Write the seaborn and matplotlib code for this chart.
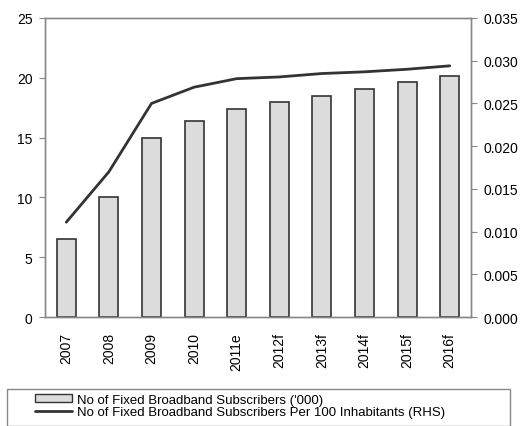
import matplotlib
matplotlib.use("Agg")
import matplotlib.pyplot as plt
from matplotlib.patches import Rectangle
from matplotlib.lines import Line2D
import seaborn as sns
import pandas as pd
import numpy as np

years = ["2007", "2008", "2009", "2010", "2011e", "2012f", "2013f", "2014f", "2015f", "2016f"]
subscribers = [6.5, 10.0, 15.0, 16.4, 17.4, 18.0, 18.45, 19.05, 19.65, 20.15]
per_100 = [0.0111, 0.0170, 0.0250, 0.0269, 0.0279, 0.0281, 0.0285, 0.0287, 0.0290, 0.0294]
left_ticks = [0, 5, 10, 15, 20, 25]
right_ticks = [0.000, 0.005, 0.010, 0.015, 0.020, 0.025, 0.030, 0.035]

bar_label = "No of Fixed Broadband Subscribers ('000)"
line_label = "No of Fixed Broadband Subscribers Per 100 Inhabitants (RHS)"

sns.set_style("white")
plt.rcParams["font.family"] = ["Liberation Sans", "DejaVu Sans"]
plt.rcParams["text.color"] = "black"
plt.rcParams["xtick.color"] = "black"
plt.rcParams["ytick.color"] = "black"

df = pd.DataFrame({"year": years, "subs": subscribers, "pos": np.arange(len(years)), "rate": per_100})

fig = plt.figure(figsize=(5.26, 4.27), dpi=100)
ax = fig.add_axes([45 / 526, 1 - 318 / 427, 426 / 526, 299 / 427])

sns.barplot(data=df, x="year", y="subs", ax=ax, color="#dcdcdc", width=0.45,
            edgecolor="#333333", linewidth=1.2, saturation=1)
ax.set_xlim(-0.5, len(years) - 0.5)
ax.set_ylim(0, 25)
ax.set_yticks(left_ticks)
ax.set_xlabel("")
ax.set_ylabel("")

ax2 = ax.twinx()
sns.lineplot(data=df, x="pos", y="rate", ax=ax2, color="#333333", linewidth=2.0)
ax2.set_ylim(0, 0.035)
ax2.set_yticks(right_ticks)
ax2.set_yticklabels([f"{t:.3f}" for t in right_ticks])
ax2.set_ylabel("")
ax2.set_xlabel("")
ax2.set_xlim(-0.5, len(years) - 0.5)

spine_col = "#888888"
for a in (ax, ax2):
    for s in a.spines.values():
        s.set_color(spine_col)
        s.set_linewidth(1.0)
        s.set_visible(True)

# category labels at centers, tick marks at boundaries
ax.set_xticks(np.arange(len(years)))
ax.set_xticklabels(years, rotation=90, fontsize=10)
ax.set_xticks(np.arange(len(years) + 1) - 0.5, minor=True)
ax.tick_params(axis="x", which="major", length=0, pad=11)
ax.tick_params(axis="x", which="minor", length=4, color=spine_col, direction="out")
ax.tick_params(axis="y", which="major", length=4, color=spine_col, labelcolor="black",
               direction="out", labelsize=10, left=True, pad=5)
ax2.tick_params(axis="y", which="major", length=4, color=spine_col, labelcolor="black",
                direction="out", labelsize=10, right=True, pad=5)
ax2.tick_params(axis="x", which="both", bottom=False, top=False, labelbottom=False)

# legend box
fig.patches.append(Rectangle((7 / 526, 1 - 427 / 427), 503 / 526, 37 / 427,
                             transform=fig.transFigure, fill=False,
                             edgecolor="#888888", linewidth=1.0))
handles = [
    Rectangle((0, 0), 1, 1, facecolor="#dcdcdc", edgecolor="#333333", linewidth=1.0),
    Line2D([0], [0], color="#333333", linewidth=2.0),
]
fig.legend(handles, [bar_label, line_label], loc="upper left",
           bbox_to_anchor=(35 / 526, 1 - 395 / 427), frameon=False,
           fontsize=9.5, handlelength=2.8, handleheight=0.55, handletextpad=0.4,
           labelspacing=0.0, borderpad=0, borderaxespad=0)

fig.savefig("out.png", dpi=100)
